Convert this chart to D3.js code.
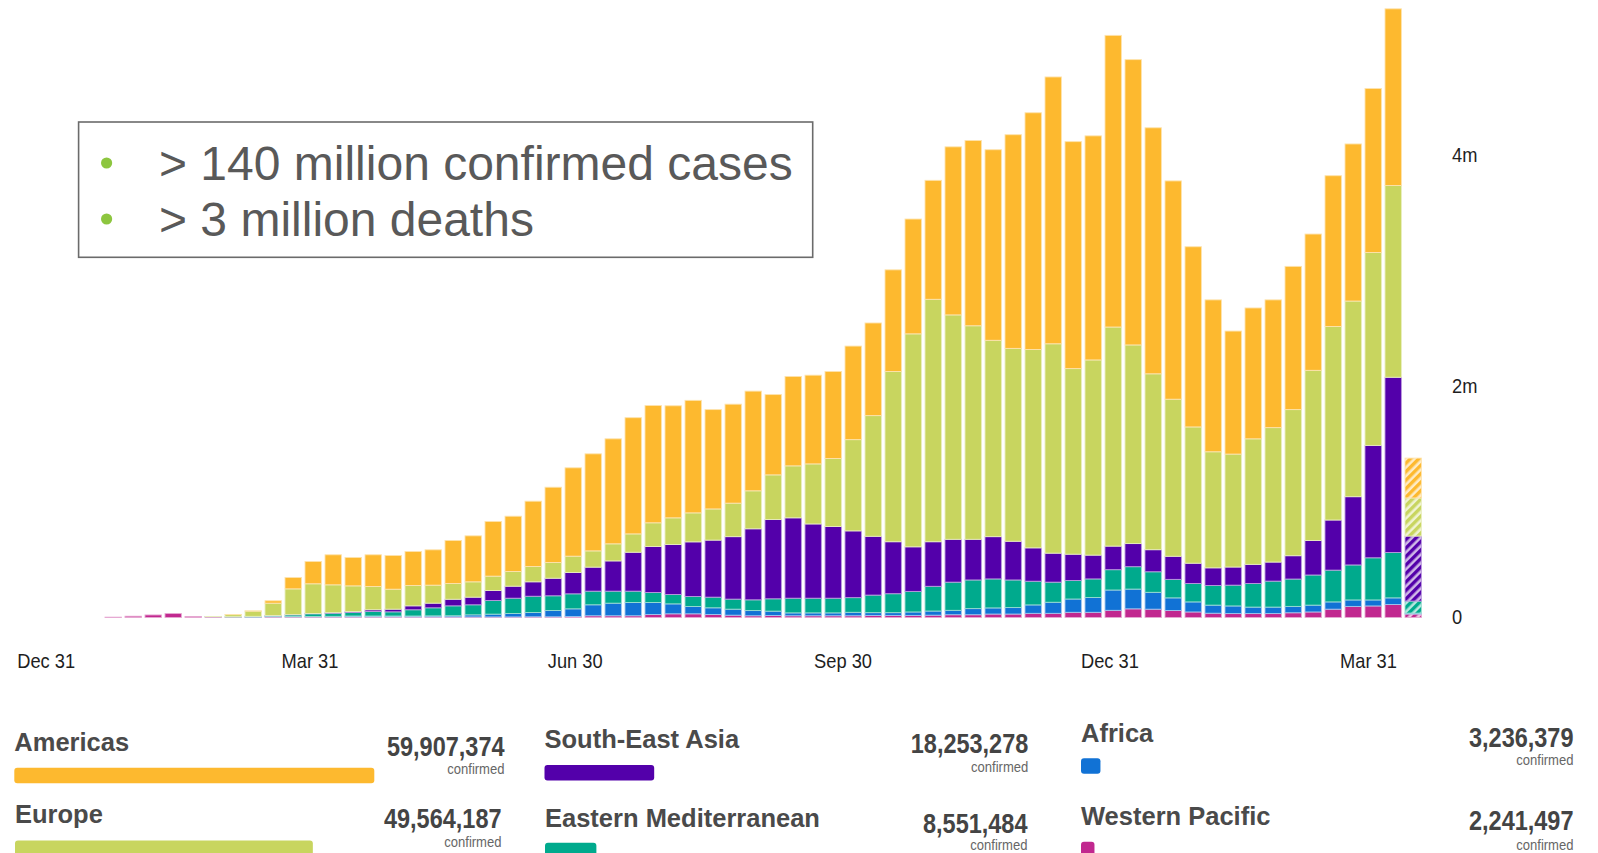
<!DOCTYPE html>
<html><head><meta charset="utf-8">
<script src="https://cdn.jsdelivr.net/npm/d3@7"></script>
<style>html,body{margin:0;padding:0;background:#fff;overflow:hidden}svg{display:block}</style>
</head><body>
<svg id="chart" width="1598" height="853"></svg>
<script>
// ---------- DATA ----------
// weekly bars (week starting Monday), last one is the partial current week
const weekStarts = d3.timeMonday.range(new Date(2020, 0, 20), new Date(2021, 3, 20));
// stack order bottom -> top
const regions = ["Western Pacific", "Africa", "Eastern Mediterranean", "South-East Asia", "Europe", "Americas"];
const regionColors = ["#C1288F", "#1172D5", "#00AA8D", "#5300AA", "#C8D55F", "#FDB92F"];
// new confirmed cases per week, thousands
const westernPacific = [3,11,22,34,9,7,4,4,6,6,6,6,6,6,6,5,5,5,5,5,5,6,6,8,15,15,15,26,32,32,26,20,15,17,15,15,15,15,18,18,18,20,24,24,30,30,36,36,45,45,62,75,72,61,48,37,34,34,34,41,48,72,96,100,113,30];
const africa = [0,0,0,0,0,0,0,1,2,2,3,4,7,7,7,8,9,10,18,24,30,37,55,67,95,109,115,104,86,63,58,52,45,38,25,25,25,30,24,24,30,36,38,53,53,56,73,96,115,128,176,171,146,109,87,70,66,56,56,55,59,63,56,52,57,8];
const easternMediterranean = [0,0,0,0,0,1,3,5,7,15,23,27,30,39,36,54,70,86,87,118,132,141,127,130,118,104,98,86,81,87,92,87,93,107,127,127,127,127,152,164,178,214,244,248,251,239,205,174,160,161,176,194,178,160,159,170,180,204,225,237,261,275,303,365,393,104];
const southEastAsia = [0,0,0,0,0,0,0,0,2,2,3,5,9,15,23,34,40,57,66,87,104,125,152,185,208,262,337,399,433,473,494,541,615,686,696,643,621,578,509,450,386,386,371,352,366,335,289,251,228,206,204,200,191,200,176,153,157,166,165,202,299,434,591,973,1517,563];
const europe = [0,0,0,0,0,1,18,45,107,223,257,241,222,201,173,176,156,136,133,124,127,133,136,141,141,148,159,205,231,251,270,290,329,387,450,520,589,790,1045,1474,1844,2099,1943,1849,1700,1670,1717,1813,1607,1690,1897,1720,1523,1360,1180,1005,978,1087,1164,1265,1473,1676,1694,1670,1660,330];
const americas = [0,0,0,0,0,0,1,2,21,98,193,260,246,275,292,294,306,373,398,473,479,565,652,765,840,909,1006,1015,970,974,860,857,863,695,774,768,753,810,802,880,994,1030,1455,1604,1650,1850,2050,2310,1965,1940,2525,2470,2130,1890,1560,1315,1065,1133,1106,1240,1180,1305,1360,1420,1530,345];
const seriesValues = [westernPacific, africa, easternMediterranean, southEastAsia, europe, americas];

const tickDates = ["2019-12-31", "2020-03-31", "2020-06-30", "2020-09-30", "2020-12-31", "2021-03-31"];
const tickLabels = ["Dec 31", "Mar 31", "Jun 30", "Sep 30", "Dec 31", "Mar 31"];
const yTickValues = [0, 2000000, 4000000];
const yTickLabels = ["0", "2m", "4m"];

const notes = ["> 140 million confirmed cases", "> 3 million deaths"];

const legendNames = ["Americas", "Europe", "South-East Asia", "Eastern Mediterranean", "Africa", "Western Pacific"];
const legendTotals = [59907374, 49564187, 18253278, 8551484, 3236379, 2241497];
const legendColors = ["#FDB92F", "#C8D55F", "#5300AA", "#00AA8D", "#1172D5", "#C1288F"];

// ---------- LAYOUT ----------
const FONT = "'Liberation Sans', Arial, Helvetica, sans-serif";
const svg = d3.select("#chart");
const fmtWeek = d3.timeFormat("%Y-%m-%d");
const parseDay = d3.timeParse("%Y-%m-%d");

const rows = weekStarts.map((d, i) => {
  const r = { week: fmtWeek(d) };
  regions.forEach((k, s) => { r[k] = seriesValues[s][i] * 1000; });
  return r;
});
const stacked = d3.stack().keys(regions)(rows);

const x = d3.scaleBand().domain(rows.map(r => r.week))
  .range([103.2, 1423.2]).paddingInner(0.18).paddingOuter(0.09);
const y = d3.scaleLinear().domain([0, 4000000]).range([617.5, 155.5]);
// piecewise time scale for the axis labels
const xTime = d3.scaleTime()
  .domain(tickDates.map(parseDay))
  .range([46.2, 310, 575.2, 843, 1109.9, 1368.5]);

// hatch patterns for the partial week
const defs = svg.append("defs");
regionColors.forEach((c, i) => {
  const p = defs.append("pattern").attr("id", "hatch" + i)
    .attr("patternUnits", "userSpaceOnUse").attr("width", 6).attr("height", 6)
    .attr("patternTransform", "rotate(45)");
  p.append("rect").attr("width", 6).attr("height", 6).attr("fill", d3.interpolateRgb(c, "#fff")(0.72));
  p.append("rect").attr("width", 3.4).attr("height", 6).attr("fill", c);
});

const lastWeek = rows[rows.length - 1].week;
const barsG = svg.append("g");
stacked.forEach((layer, s) => {
  const c = regionColors[s];
  barsG.append("g").selectAll("rect").data(layer).join("rect")
    .attr("x", d => x(d.data.week))
    .attr("width", x.bandwidth())
    .attr("y", d => y(d[1]))
    .attr("height", d => Math.max(0, y(d[0]) - y(d[1])))
    .attr("fill", d => d.data.week === lastWeek ? `url(#hatch${s})` : c)
    .attr("stroke", d3.interpolateRgb(c, "#fff")(0.6))
    .attr("stroke-width", 0.9);
});

// helper for condensed text
function ctext(g, str, tx, ty, opts) {
  const t = g.append("g").attr("transform", `translate(${tx},${ty}) scale(${opts.sx || 1},1)`)
    .append("text").text(str)
    .attr("font-family", FONT).attr("font-size", opts.size)
    .attr("font-weight", opts.weight || "normal")
    .attr("fill", opts.fill || "#222")
    .attr("text-anchor", opts.anchor || "start");
  if (opts.baseline) t.attr("dominant-baseline", opts.baseline);
  return t;
}

// x tick labels
const axG = svg.append("g");
tickDates.forEach((ds, i) => {
  ctext(axG, tickLabels[i], xTime(parseDay(ds)), 668, { size: 21, sx: 0.87, anchor: "middle", fill: "#1e1e1e" });
});
// y tick labels (right side)
yTickValues.forEach((v, i) => {
  ctext(axG, yTickLabels[i], 1452, y(v) - 1, { size: 21, sx: 0.87, anchor: "start", fill: "#1e1e1e", baseline: "central" });
});

// annotation box
const note = svg.append("g");
note.append("rect").attr("x", 78.6).attr("y", 122).attr("width", 734.1).attr("height", 135.3)
  .attr("fill", "#fff").attr("stroke", "#6b6b6b").attr("stroke-width", 1.6);
const noteBase = [180, 236];
notes.forEach((n, i) => {
  note.append("circle").attr("cx", 106.6).attr("cy", noteBase[i] - 17).attr("r", 5.6).attr("fill", "#8DC63F");
  note.append("text").text(n).attr("x", 159).attr("y", noteBase[i])
    .attr("font-family", FONT).attr("font-size", 48).attr("fill", "#595959");
});

// legend
const legendPos = [
  { x: 14.3, right: 504.5, nameY: 750.7, numY: 756, confY: 774, barY: 767.7 },
  { x: 15, right: 501.5, nameY: 822.5, numY: 828.3, confY: 846.7, barY: 840.5 },
  { x: 544.5, right: 1028.3, nameY: 748.3, numY: 753.3, confY: 771.7, barY: 765 },
  { x: 545, right: 1027.5, nameY: 827.3, numY: 833.3, confY: 850, barY: 842.7 },
  { x: 1081, right: 1573.5, nameY: 741.7, numY: 746.7, confY: 765, barY: 758.3 },
  { x: 1081, right: 1573.5, nameY: 825, numY: 830, confY: 850, barY: 841.7 }
];
const lw = d3.scaleLinear().domain([0, d3.max(legendTotals)]).range([0, 360]);
const fmtN = d3.format(",");
const lg = svg.append("g");
legendNames.forEach((name, i) => {
  const p = legendPos[i];
  lg.append("text").text(name).attr("x", p.x).attr("y", p.nameY)
    .attr("font-family", FONT).attr("font-size", 25.5).attr("font-weight", "bold").attr("fill", "#4a4a4a");
  lg.append("rect").attr("x", p.x).attr("y", p.barY).attr("width", lw(legendTotals[i])).attr("height", 15.5)
    .attr("rx", 3).attr("fill", legendColors[i]);
  ctext(lg, fmtN(legendTotals[i]), p.right, p.numY, { size: 27, sx: 0.87, anchor: "end", weight: "bold", fill: "#444" });
  ctext(lg, "confirmed", p.right, p.confY, { size: 15, sx: 0.87, anchor: "end", fill: "#666" });
});
</script>
</body></html>
